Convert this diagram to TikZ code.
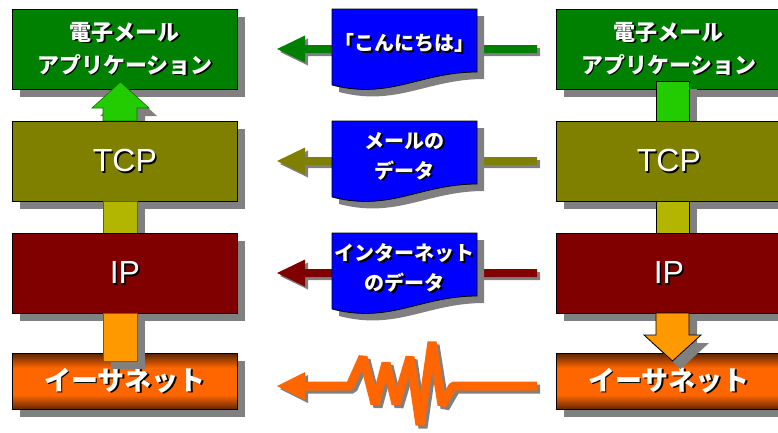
\documentclass[tikz,border=0pt]{standalone}
\usepackage{fontspec}
\setmainfont{Liberation Sans}
\newfontfamily\jp{Noto Sans CJK JP}
\definecolor{appg}{RGB}{0,128,0}
\definecolor{tcpo}{RGB}{128,128,0}
\definecolor{ipr}{RGB}{128,0,0}
\definecolor{ethor}{RGB}{255,102,0}
\definecolor{ethdk}{RGB}{96,36,0}
\definecolor{docb}{RGB}{0,0,255}
\definecolor{shd}{RGB}{128,128,128}
\definecolor{agreen}{RGB}{34,204,0}
\definecolor{ayell}{RGB}{178,182,0}
\definecolor{aorange}{RGB}{255,153,0}
\pgfdeclareverticalshading{ethshade}{100bp}{color(0bp)=(ethdk); color(25bp)=(ethdk); color(38bp)=(ethor); color(62bp)=(ethor); color(75bp)=(ethdk); color(100bp)=(ethdk)}
\newcommand{\tsh}[1]{\rlap{\kern1.5pt\raisebox{-1.5pt}{\textcolor{black}{#1}}}#1}
\newcommand{\docpath}[1]{(332,#1) -- (477,#1) -- (477,#1+63) .. controls (420,#1+63) and (390,#1+91) .. (332,#1+76) -- cycle}
\newcommand{\harrow}[2]{%
  \fill[shd,shift={(3,3)}] (537,#1-4) -- (305,#1-4) -- (305,#1-13.5) -- (277,#1) -- (305,#1+13.5) -- (305,#1+4) -- (537,#1+4) -- cycle;
  \fill[#2] (537,#1-4) -- (305,#1-4) -- (305,#1-13.5) -- (277,#1) -- (305,#1+13.5) -- (305,#1+4) -- (537,#1+4) -- cycle;}
\begin{document}
\begin{tikzpicture}[x=1pt,y=-1pt,
  box/.style={draw=black, line width=0.8pt, minimum width=225pt, minimum height=80pt,
    inner sep=0pt, text=white, anchor=north west},
  jpbox/.style={font=\jp\bfseries\fontsize{22}{33}\selectfont, align=center},
  latbox/.style={font=\fontsize{32}{36}\selectfont},
  ethbox/.style={minimum height=56pt, shading=ethshade, font=\jp\bfseries\fontsize{27}{30}\selectfont},
  doctext/.style={text=white, align=center, inner sep=0pt, font=\jp\bfseries\fontsize{20}{30}\selectfont},
  shaftL/.style={line width=0.6pt},
  shaftR/.style={draw=black, line width=0.8pt}]
\useasboundingbox (0,0) rectangle (778,432);
\clip (0,0) rectangle (778,432);

% --- application layer
\fill[shd] (20,17) rectangle (245,97);
\fill[shd] (564,17) rectangle (789,97);
\node[box, jpbox, fill=appg] (appL) at (12,9) {\tsh{電子メール}\\\tsh{アプリケーション}};
\node[box, jpbox, fill=appg] (appR) at (556,9) {\tsh{電子メール}\\\tsh{アプリケーション}};

% green arrows
\fill[shd,shift={(8,8)}] (103,121) -- (103,108) -- (92,108) -- (120.5,82) -- (149,108) -- (137,108) -- (137,121) -- cycle;
\filldraw[fill=agreen, draw=agreen!55!black, shaftL] (103,121) -- (103,108) -- (92,108) -- (120.5,82) -- (149,108) -- (137,108) -- (137,121) -- cycle;
\fill[shd] (664,89) rectangle (697,129);
\filldraw[fill=agreen, shaftR] (656,81) rectangle (689,121);

% --- TCP layer
\fill[shd] (20,129) rectangle (245,209);
\fill[shd] (564,129) rectangle (789,209);
\node[box, latbox, fill=tcpo] (tcpL) at (12,121) {\tsh{TCP}};
\node[box, latbox, fill=tcpo] (tcpR) at (556,121) {\tsh{TCP}};

% olive shafts
\fill[shd] (111,209) rectangle (145,241);
\filldraw[fill=ayell, draw=ayell!55!black, shaftL] (103,201) rectangle (137,233);
\fill[shd] (664,209) rectangle (697,241);
\filldraw[fill=ayell, shaftR] (656,201) rectangle (689,233);

% --- IP layer
\fill[shd] (20,241) rectangle (245,321);
\fill[shd] (564,241) rectangle (789,321);
\node[box, latbox, fill=ipr] (ipL) at (12,233) {\tsh{IP}};
\node[box, latbox, fill=ipr] (ipR) at (556,233) {\tsh{IP}};

% --- Ethernet layer
\fill[shd] (20,361) rectangle (245,417);
\fill[shd] (564,361) rectangle (789,417);
\node[box, ethbox] (ethL) at (12,353) {\tsh{イーサネット}};
\node[box, ethbox] (ethR) at (556,353) {\tsh{イーサネット}};

% orange arrows
\fill[shd] (111,321) rectangle (145,369);
\filldraw[fill=aorange, draw=aorange!55!black, shaftL] (103,313) rectangle (137,361);
\fill[shd,shift={(8,8)}] (656,313) -- (656,335) -- (644,335) -- (672.5,361) -- (701,335) -- (689,335) -- (689,313) -- cycle;
\filldraw[fill=aorange, shaftR] (656,313) -- (656,335) -- (644,335) -- (672.5,361) -- (701,335) -- (689,335) -- (689,313) -- cycle;

% --- horizontal data arrows
\harrow{49}{appg}
\harrow{161}{tcpo}
\harrow{273}{ipr}

% zigzag (physical signal)
\draw[shd, line width=9pt, line join=bevel, shift={(3,3)}] (304,386) -- (350,386) -- (363,357) -- (375,404) -- (386,363) -- (396,404) -- (410,357) -- (420,425) -- (432,342) -- (442,405) -- (453,386) -- (537,386);
\fill[shd, shift={(3,3)}] (305,372) -- (277,386) -- (305,400) -- cycle;
\draw[ethor, line width=9pt, line join=bevel] (304,386) -- (350,386) -- (363,357) -- (375,404) -- (386,363) -- (396,404) -- (410,357) -- (420,425) -- (432,342) -- (442,405) -- (453,386) -- (537,386);
\fill[ethor] (305,372) -- (277,386) -- (305,400) -- cycle;

% --- data documents
\fill[shd, shift={(7,7)}] \docpath{9};
\filldraw[fill=docb, draw=black, line width=0.8pt] \docpath{9};
\node[doctext] (d1) at (404.5,44) {\tsh{「こんにちは」}};

\fill[shd, shift={(7,7)}] \docpath{121};
\filldraw[fill=docb, draw=black, line width=0.8pt] \docpath{121};
\node[doctext] (d2) at (404.5,157) {\tsh{メールの}\\\tsh{データ}};

\fill[shd, shift={(7,7)}] \docpath{233};
\filldraw[fill=docb, draw=black, line width=0.8pt] \docpath{233};
\node[doctext] (d3) at (404.5,269) {\tsh{インターネット}\\\tsh{のデータ}};
\end{tikzpicture}
\end{document}
